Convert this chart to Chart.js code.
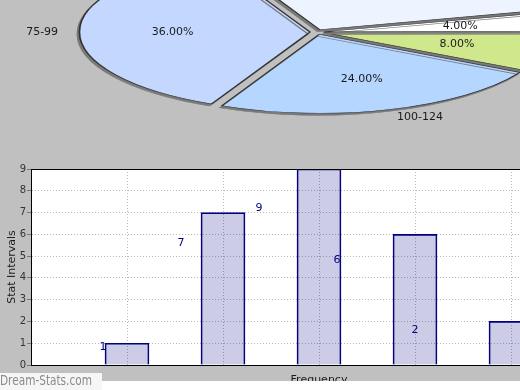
<!DOCTYPE html>
<html>
<head>
<meta charset="utf-8">
<script src="https://cdn.jsdelivr.net/npm/chart.js@4"></script>
<style>
  html, body { margin: 0; padding: 0; }
  body {
    width: 520px; height: 390px; overflow: hidden; position: relative;
    background: #c0c0c0; font-family: "DejaVu Sans", sans-serif;
  }
  #pieWrap { position: absolute; left: 0; top: 0; width: 520px; height: 150px; overflow: hidden; }
  #pie { position: absolute; left: 17px; top: -268px; }
  #bar { position: absolute; left: 0; top: 150px; }
  #foot { position: absolute; left: 0; top: 381px; width: 520px; height: 9px; background: #fff; }
  #mark {
    position: absolute; left: 0; top: 373px; width: 102px; height: 17px;
    background: #f6f6f6; overflow: hidden;
  }
  #mark span {
    display: block; font-size: 13.5px; line-height: 15px; color: #8a8a8a;
    transform: scaleX(0.78); transform-origin: 0 0; white-space: nowrap;
  }
</style>
</head>
<body>
<div id="pieWrap"><canvas id="pie" width="600" height="600"></canvas></div>
<canvas id="bar" width="620" height="240"></canvas>
<div id="foot"></div>
<div id="mark"><span>Dream-Stats.com</span></div>

<script>
// intervals and how many values fall in each
const categories = ["25-49", "50-74", "75-99", "100-124", "125-149"];
const counts = [1, 7, 9, 6, 2];
const yTicks = [0, 1, 2, 3, 4, 5, 6, 7, 8, 9];

// pie goes the other way round, so reverse for chart.js
const pieLabels = categories.slice().reverse();
const pieCounts = counts.slice().reverse();
const pieColors = ["#d0e88c", "#b5d6ff", "#c4d8ff", "#eef4ff", "#ffffff"];

const TILT = 0.345;      // squash circle into ellipse
const SLICE_OFFSET = 28; // chart.js draws arcs offset by value/4

const tiltPlugin = {
  id: "tilt",
  beforeDatasetsDraw(chart) {
    const { ctx } = chart;
    const c = chart.getDatasetMeta(0).data[0];
    ctx.save();
    ctx.translate(c.x, c.y);
    ctx.scale(1, TILT);
    ctx.translate(-c.x, -c.y);
    ctx.shadowColor = "#7a7a7a";
    ctx.shadowOffsetX = -2;
    ctx.shadowOffsetY = 2;
    ctx.shadowBlur = 0;
  },
  afterDatasetsDraw(chart) {
    chart.ctx.restore();
  },
  afterDraw(chart) {
    const { ctx } = chart;
    const meta = chart.getDatasetMeta(0);
    const total = pieCounts.reduce((a, b) => a + b, 0);
    const off = SLICE_OFFSET / 4;
    ctx.save();
    ctx.font = "11px 'DejaVu Sans'";
    ctx.fillStyle = "#1a1a1a";
    ctx.textBaseline = "middle";
    meta.data.forEach((arc, i) => {
      const p = arc.getProps(["x", "y", "startAngle", "endAngle", "outerRadius"], true);
      const mid = (p.startAngle + p.endAngle) / 2;
      const cs = Math.cos(mid), sn = Math.sin(mid);
      const r1 = p.outerRadius * 0.6 + off;
      ctx.textAlign = "center";
      ctx.fillText((pieCounts[i] / total * 100).toFixed(2) + "%", p.x + cs * r1, p.y + sn * r1 * TILT);
      const r2 = p.outerRadius * 1.1 + off;
      ctx.textAlign = cs >= 0 ? "left" : "right";
      ctx.fillText(pieLabels[i], p.x + cs * r2, p.y + sn * r2 * TILT);
    });
    ctx.restore();
  },
};

new Chart(document.getElementById("pie"), {
  type: "pie",
  data: {
    labels: pieLabels,
    datasets: [{
      data: pieCounts,
      backgroundColor: pieColors,
      borderColor: "#333333",
      borderWidth: 1.8,
      offset: SLICE_OFFSET,
    }],
  },
  options: {
    responsive: false,
    animation: false,
    events: [],
    radius: 229,
    rotation: 90,
    layout: { padding: 0 },
    plugins: { legend: { display: false }, tooltip: { enabled: false } },
  },
  plugins: [tiltPlugin],
});

const frame = {
  id: "frame",
  beforeDraw(chart) {
    const { ctx, chartArea: a } = chart;
    ctx.save();
    ctx.fillStyle = "#ffffff";
    ctx.fillRect(a.left, a.top, a.right - a.left, a.bottom - a.top);
    ctx.restore();
  },
  afterDatasetsDraw(chart) {
    const { ctx, chartArea: a } = chart;
    ctx.save();
    ctx.strokeStyle = "#000000";
    ctx.lineWidth = 1;
    ctx.strokeRect(a.left + 0.5, a.top + 0.5, a.right - a.left, a.bottom - a.top);

    // value labels, drawn where the original puts them (shifted off the bars)
    const xs = chart.scales.x, ys = chart.scales.y;
    ctx.font = "11px 'DejaVu Sans'";
    ctx.fillStyle = "#000080";
    ctx.textAlign = "center";
    ctx.textBaseline = "middle";
    counts.forEach((v, i) => {
      const px = xs.getPixelForValue((i + 1) * 0.8125 - 0.0625);
      const py = ys.getPixelForValue(v * 0.8);
      ctx.fillText(String(v), px, py);
    });
    ctx.restore();
  },
};

new Chart(document.getElementById("bar"), {
  type: "bar",
  data: {
    datasets: [{
      data: counts.map((v, i) => ({ x: i + 1, y: v })),
      backgroundColor: "rgba(0,0,128,0.2)",
      borderColor: "#000080",
      borderWidth: 1,
      barThickness: 44,
    }],
  },
  options: {
    responsive: false,
    animation: false,
    events: [],
    layout: { padding: { top: 19, right: 13, left: 0, bottom: 0 } },
    plugins: { legend: { display: false }, tooltip: { enabled: false } },
    scales: {
      x: {
        type: "linear",
        offset: false,
        min: 0,
        max: categories.length + 1,
        ticks: { display: false, stepSize: 1 },
        grid: { color: "#b8b8b8", drawTicks: false, offset: false },
        border: { color: "#000000", dash: [1, 2] },
        title: {
          display: true, text: "Frequency", color: "#1a1a1a",
          font: { family: "DejaVu Sans", size: 11 },
          padding: { top: 0, bottom: 3 },
        },
        afterFit(s) { s.height = 25; },
      },
      y: {
        min: yTicks[0],
        max: yTicks[yTicks.length - 1],
        afterBuildTicks(s) { s.ticks = yTicks.map(v => ({ value: v })); },
        ticks: { color: "#333333", padding: 1, font: { family: "DejaVu Sans", size: 10 } },
        grid: { color: "#b8b8b8", tickLength: 4, tickColor: "#777777", tickBorderDash: [] },
        border: { color: "#000000", dash: [1, 2] },
        title: {
          display: true, text: "Stat Intervals", color: "#1a1a1a",
          font: { family: "DejaVu Sans", size: 11 },
          padding: { top: 6, bottom: 0 },
        },
        afterFit(s) { s.width = 31; },
      },
    },
  },
  plugins: [frame],
});
</script>
</body>
</html>
